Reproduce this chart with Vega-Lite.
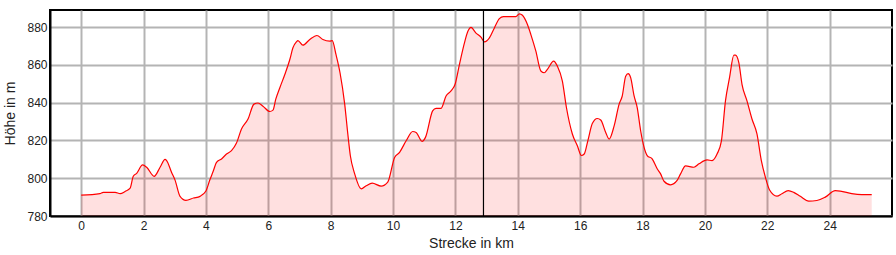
{
  "$schema": "https://vega.github.io/schema/vega-lite/v6.json",
  "autosize": "none",
  "width": 842,
  "height": 206,
  "padding": {"left": 50, "top": 10, "right": 4, "bottom": 39},
  "background": "white",
  "config": {
    "view": {"stroke": "black", "strokeWidth": 2},
    "axis": {
      "labelFont": "Liberation Sans",
      "labelFontSize": 12,
      "labelColor": "#222",
      "titleFont": "Liberation Sans",
      "titleFontSize": 14,
      "titleFontWeight": "normal",
      "titleColor": "#222",
      "gridColor": "#b4b4b4",
      "gridWidth": 2,
      "gridOpacity": 1,
      "domainColor": "black",
      "domainWidth": 2,
      "ticks": false,
      "tickSize": 0
    }
  },
  "datasets": {
    "profile": [
      {"km": 0, "h": 791}, {"km": 0.6, "h": 791.8}, {"km": 0.71, "h": 792.5}, {"km": 1.09, "h": 792.5},
      {"km": 1.25, "h": 791.8}, {"km": 1.41, "h": 793}, {"km": 1.57, "h": 794.7}, {"km": 1.67, "h": 801},
      {"km": 1.78, "h": 802.6}, {"km": 1.97, "h": 807}, {"km": 2.1, "h": 805.8}, {"km": 2.34, "h": 801},
      {"km": 2.53, "h": 805.8}, {"km": 2.69, "h": 810}, {"km": 2.74, "h": 809.3}, {"km": 2.9, "h": 803},
      {"km": 3.01, "h": 799}, {"km": 3.17, "h": 790.4}, {"km": 3.36, "h": 788.3}, {"km": 3.6, "h": 789.5},
      {"km": 3.81, "h": 790.4}, {"km": 4.0, "h": 793.2}, {"km": 4.13, "h": 799.3}, {"km": 4.23, "h": 803.5},
      {"km": 4.34, "h": 808.4}, {"km": 4.5, "h": 810.2}, {"km": 4.66, "h": 812.8}, {"km": 4.82, "h": 814.6},
      {"km": 4.98, "h": 818.6}, {"km": 5.14, "h": 826}, {"km": 5.35, "h": 831.3}, {"km": 5.54, "h": 839.2},
      {"km": 5.67, "h": 839.8}, {"km": 5.83, "h": 838.1}, {"km": 6.05, "h": 835.3}, {"km": 6.15, "h": 836},
      {"km": 6.24, "h": 841.8}, {"km": 6.37, "h": 847.9}, {"km": 6.53, "h": 854.9}, {"km": 6.69, "h": 862.8},
      {"km": 6.79, "h": 869}, {"km": 6.9, "h": 872.1}, {"km": 6.95, "h": 872.8}, {"km": 7.11, "h": 870.4},
      {"km": 7.33, "h": 873.4}, {"km": 7.56, "h": 875.5}, {"km": 7.75, "h": 873.4}, {"km": 7.97, "h": 872.5},
      {"km": 8.05, "h": 872.8}, {"km": 8.17, "h": 865.5}, {"km": 8.3, "h": 855.8}, {"km": 8.45, "h": 839.2},
      {"km": 8.55, "h": 823.4}, {"km": 8.63, "h": 812}, {"km": 8.77, "h": 802.3}, {"km": 8.98, "h": 794.4},
      {"km": 9.14, "h": 796}, {"km": 9.33, "h": 797.4}, {"km": 9.62, "h": 795.8}, {"km": 9.83, "h": 797.9},
      {"km": 10.05, "h": 811}, {"km": 10.21, "h": 813.7}, {"km": 10.42, "h": 819.8}, {"km": 10.63, "h": 824.7},
      {"km": 10.74, "h": 824.2}, {"km": 10.93, "h": 819.5}, {"km": 11.04, "h": 821.6}, {"km": 11.27, "h": 835.6},
      {"km": 11.38, "h": 837}, {"km": 11.54, "h": 837}, {"km": 11.7, "h": 843.5}, {"km": 11.86, "h": 846.2},
      {"km": 11.99, "h": 849.7}, {"km": 12.13, "h": 860.2}, {"km": 12.29, "h": 871.6}, {"km": 12.4, "h": 877.7},
      {"km": 12.5, "h": 879.8}, {"km": 12.66, "h": 876.8}, {"km": 12.82, "h": 874.6}, {"km": 12.93, "h": 872.1},
      {"km": 13.09, "h": 874.2}, {"km": 13.25, "h": 879.5}, {"km": 13.41, "h": 884.4}, {"km": 13.54, "h": 885.5},
      {"km": 13.94, "h": 885.5}, {"km": 14.05, "h": 887}, {"km": 14.15, "h": 886.2}, {"km": 14.31, "h": 881.3},
      {"km": 14.42, "h": 876}, {"km": 14.58, "h": 867.2}, {"km": 14.74, "h": 856.7}, {"km": 14.85, "h": 855.8},
      {"km": 14.95, "h": 857.6}, {"km": 15.15, "h": 862}, {"km": 15.27, "h": 859.3}, {"km": 15.43, "h": 851.4},
      {"km": 15.56, "h": 837.4}, {"km": 15.75, "h": 823.4}, {"km": 15.91, "h": 817.2}, {"km": 16.04, "h": 812},
      {"km": 16.13, "h": 812.8}, {"km": 16.25, "h": 820}, {"km": 16.39, "h": 828.9}, {"km": 16.55, "h": 831.6},
      {"km": 16.66, "h": 830.8}, {"km": 16.82, "h": 824.2}, {"km": 16.93, "h": 820.7}, {"km": 17.09, "h": 827.7},
      {"km": 17.25, "h": 839.2}, {"km": 17.35, "h": 843.5}, {"km": 17.46, "h": 854}, {"km": 17.54, "h": 855.3},
      {"km": 17.62, "h": 853.2}, {"km": 17.73, "h": 843.5}, {"km": 17.83, "h": 837.4}, {"km": 17.94, "h": 825.1},
      {"km": 18.05, "h": 816.3}, {"km": 18.15, "h": 812}, {"km": 18.31, "h": 810.2}, {"km": 18.47, "h": 805},
      {"km": 18.58, "h": 802.3}, {"km": 18.69, "h": 798.4}, {"km": 18.9, "h": 796.5}, {"km": 19.11, "h": 798.8},
      {"km": 19.22, "h": 802.3}, {"km": 19.38, "h": 806.5}, {"km": 19.65, "h": 805.8}, {"km": 19.81, "h": 807.6},
      {"km": 20.07, "h": 809.7}, {"km": 20.23, "h": 809.3}, {"km": 20.39, "h": 812.8}, {"km": 20.53, "h": 819.8},
      {"km": 20.66, "h": 840.9}, {"km": 20.79, "h": 853.2}, {"km": 20.93, "h": 865.1}, {"km": 20.98, "h": 865.1},
      {"km": 21.09, "h": 861}, {"km": 21.19, "h": 849.7}, {"km": 21.35, "h": 840.9}, {"km": 21.51, "h": 831.3},
      {"km": 21.67, "h": 823.4}, {"km": 21.81, "h": 809.3}, {"km": 21.94, "h": 800.5}, {"km": 22.07, "h": 793.9},
      {"km": 22.31, "h": 790.5}, {"km": 22.47, "h": 791.8}, {"km": 22.67, "h": 793.4}, {"km": 22.85, "h": 792.5},
      {"km": 23.06, "h": 790.4}, {"km": 23.33, "h": 787.9}, {"km": 23.59, "h": 788.2}, {"km": 23.86, "h": 790},
      {"km": 24.18, "h": 793.4}, {"km": 24.34, "h": 793.2}, {"km": 24.71, "h": 791.8}, {"km": 25.03, "h": 791.3},
      {"km": 25.35, "h": 791.3}
    ],
    "marker": [{"km": 12.9}]
  },
  "layer": [
    {
      "data": {"name": "profile"},
      "mark": {"type": "area", "color": "#ff0000", "fillOpacity": 0.12, "interpolate": "monotone", "clip": true,
               "line": {"color": "#ff0000", "strokeWidth": 1.2}},
      "encoding": {
        "x": {"field": "km", "type": "quantitative",
              "scale": {"domain": [-1, 26], "nice": false, "zero": false},
              "axis": {"title": "Strecke in km", "values": [0, 2, 4, 6, 8, 10, 12, 14, 16, 18, 20, 22, 24],
                       "labelPadding": 4, "titlePadding": 5, "format": "d"}},
        "y": {"field": "h", "type": "quantitative",
              "scale": {"domain": [780, 889], "nice": false, "zero": false},
              "axis": {"title": "Höhe in m", "values": [780, 800, 820, 840, 860, 880],
                       "labelPadding": 3, "titlePadding": 9, "format": "d"}}
      }
    },
    {
      "data": {"name": "marker"},
      "mark": {"type": "rule", "color": "black", "strokeWidth": 1.2},
      "encoding": {"x": {"field": "km", "type": "quantitative"}}
    }
  ]
}
